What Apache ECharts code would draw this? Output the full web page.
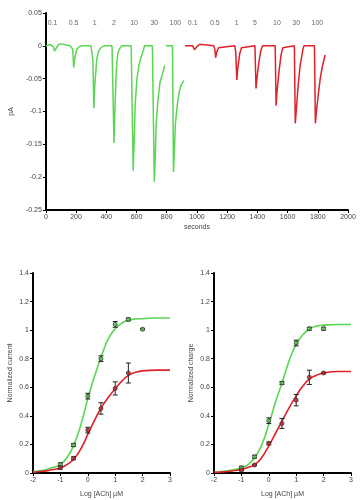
<!DOCTYPE html>
<html><head><meta charset="utf-8">
<script src="https://cdn.jsdelivr.net/npm/echarts@6/dist/echarts.min.js"></script>
<style>html,body{margin:0;padding:0;background:#fff}#c{width:362px;height:500px}</style>
</head><body><div id="c"></div>
<script>
// ---- top trace data (seconds, pA) ----
const greenT = [0,32,44,51,57,70,83,102,108,159,171,178,184,191,203,222,241,298,305,311,318,324,337,349,368,387,438,445,451,457,464,470,476,489,502,565,572,578,584,591,603,616,629,641,654,705,711,718,724,730,743,756,775,787,790,794,838,845,851,857,870,883,895,914];
const greenV = [0,0.002,0,-0.002,-0.008,-0.003,0.002,0.003,0.001,0,0,-0.005,-0.033,-0.02,-0.006,-0.001,0,0,0,-0.02,-0.095,-0.06,-0.02,-0.008,-0.002,0,0,0,-0.148,-0.10,-0.05,-0.025,-0.012,-0.004,0,0,0,-0.19,-0.15,-0.09,-0.05,-0.03,-0.018,-0.01,0,0,0,-0.207,-0.17,-0.12,-0.08,-0.055,-0.04,-0.03,'-',0,0,-0.192,-0.16,-0.12,-0.09,-0.07,-0.06,-0.053];
const redT = [921,972,978,984,997,1016,1029,1035,1048,1111,1118,1124,1130,1143,1156,1251,1257,1264,1270,1283,1295,1308,1384,1391,1397,1410,1422,1435,1518,1524,1530,1543,1556,1568,1645,1651,1657,1670,1683,1702,1708,1778,1784,1791,1803,1816,1829,1848];
const redV = [0,0,-0.003,-0.006,-0.002,0.002,0.004,0.002,0,0,-0.005,-0.018,-0.01,-0.003,0,0,-0.01,-0.052,-0.035,-0.012,-0.003,0,0,-0.065,-0.05,-0.025,-0.008,0,0,-0.091,-0.07,-0.04,-0.015,-0.003,0,-0.118,-0.10,-0.06,-0.03,-0.005,0,0,-0.118,-0.10,-0.075,-0.05,-0.033,-0.014];
const concLabels = ['0.1','0.5','1','2','10','30','100','0.1','0.5','1','5','10','30','100'];
const concLabelT = [44,184,324,451,584,718,857,972,1118,1264,1384,1530,1657,1797];
const concLabelY = 0.034;

// ---- dose-response data ----
const curveX = [-2,-1.75,-1.5,-1.25,-1,-0.75,-0.5,-0.25,0,0.25,0.5,0.75,1,1.25,1.5,1.75,2,2.5,3];
const greenCurFit = [0.01,0.015,0.025,0.04,0.06,0.11,0.2,0.34,0.52,0.68,0.82,0.94,1.01,1.05,1.07,1.078,1.08,1.085,1.085];
const redCurFit = [0.005,0.01,0.015,0.025,0.035,0.06,0.1,0.17,0.27,0.37,0.46,0.53,0.59,0.645,0.685,0.705,0.715,0.72,0.72];
const greenChgFit = [0.005,0.01,0.015,0.025,0.035,0.06,0.11,0.2,0.34,0.5,0.64,0.79,0.9,0.97,1.01,1.028,1.035,1.04,1.04];
const redChgFit = [0.005,0.007,0.01,0.017,0.025,0.04,0.06,0.11,0.19,0.28,0.37,0.46,0.54,0.61,0.66,0.685,0.7,0.71,0.71];

const doseX = [-1,-0.52,0,0.48,1,1.48,2];
const greenCurPts = [0.06,0.196,0.538,0.80,1.04,1.075,1.007];
const greenCurErr = [0.01,0.01,0.02,0.02,0.02,0.01,0.005];
const redCurPts = [0.037,0.103,0.30,0.452,0.592,0.70];
const redCurErr = [0.01,0.01,0.02,0.04,0.046,0.07];
const greenChgPts = [0.037,0.114,0.366,0.63,0.91,1.01,1.01];
const greenChgErr = [0.01,0.01,0.02,0.01,0.02,0.01,0.01];
const redChgPts = [0.02,0.056,0.207,0.347,0.51,0.67,0.70];
const redChgErr = [0.005,0.005,0.01,0.035,0.04,0.05,0.005];

const GREEN = '#5cd454', RED = '#e0202a';
const FONT = 'Liberation Sans';
const zip = (a, b) => a.map((v, i) => [v, b[i]]);

function axis(extra) {
  return Object.assign({
    type: 'value',
    axisLine: {show: true, onZero: false, lineStyle: {color: '#000', width: 2}},
    axisTick: {show: true, length: 3, lineStyle: {color: '#000', width: 1}},
    axisLabel: {fontSize: 7, color: '#444', fontFamily: FONT, margin: 4, formatter: v => String(+v.toFixed(3))},
    splitLine: {show: false},
    nameLocation: 'middle',
    nameTextStyle: {fontSize: 7, color: '#444', fontFamily: FONT}
  }, extra);
}

function errSeries(xi, yi, x, y, e) {
  return {
    type: 'custom', xAxisIndex: xi, yAxisIndex: yi, z: 5,
    data: x.slice(0, y.length).map((v, i) => [v, y[i] - e[i], y[i] + e[i]]),
    renderItem: function (params, api) {
      const lo = api.coord([api.value(0), api.value(1)]);
      const hi = api.coord([api.value(0), api.value(2)]);
      const w = 2.5;
      return {type: 'group', children: [
        {type: 'line', shape: {x1: lo[0], y1: lo[1], x2: hi[0], y2: hi[1]}, style: {stroke: '#222', lineWidth: 1}},
        {type: 'line', shape: {x1: hi[0]-w, y1: hi[1], x2: hi[0]+w, y2: hi[1]}, style: {stroke: '#222', lineWidth: 1}},
        {type: 'line', shape: {x1: lo[0]-w, y1: lo[1], x2: lo[0]+w, y2: lo[1]}, style: {stroke: '#222', lineWidth: 1}}
      ]};
    }
  };
}
function pts(xi, yi, x, y, color) {
  return {type: 'scatter', xAxisIndex: xi, yAxisIndex: yi, z: 6, symbol: 'circle', symbolSize: 4,
    itemStyle: {color: color, borderColor: '#333', borderWidth: 1},
    data: x.slice(0, y.length).map((v, i) => [v, y[i]])};
}
function fit(xi, yi, y, color) {
  return {type: 'line', xAxisIndex: xi, yAxisIndex: yi, smooth: true, showSymbol: false, z: 4,
    lineStyle: {color: color, width: 1.6}, data: zip(curveX, y)};
}

const chart = echarts.init(document.getElementById('c'), null, {renderer: 'canvas'});
chart.setOption({
  animation: false,
  backgroundColor: '#fff',
  grid: [
    {left: 33, top: 13, width: 315, height: 197},
    {left: 33, top: 273, width: 137, height: 200},
    {left: 214, top: 273, width: 137, height: 200}
  ],
  xAxis: [
    axis({gridIndex: 0, min: 0, max: 2000, interval: 200, name: 'seconds', nameGap: 14}),
    axis({gridIndex: 1, min: -2, max: 3, interval: 1, name: 'Log [ACh] µM', nameGap: 18}),
    axis({gridIndex: 2, min: -2, max: 3, interval: 1, name: 'Log [ACh] µM', nameGap: 18})
  ],
  yAxis: [
    axis({gridIndex: 0, min: -0.25, max: 0.05, interval: 0.05, name: 'pA', nameGap: 22}),
    axis({gridIndex: 1, min: 0, max: 1.4, interval: 0.2, name: 'Normalized current', nameGap: 19}),
    axis({gridIndex: 2, min: 0, max: 1.4, interval: 0.2, name: 'Normalized charge', nameGap: 19})
  ],
  series: [
    {type: 'line', xAxisIndex: 0, yAxisIndex: 0, showSymbol: false, connectNulls: false,
      lineStyle: {color: GREEN, width: 1.5}, data: zip(greenT, greenV)},
    {type: 'line', xAxisIndex: 0, yAxisIndex: 0, showSymbol: false,
      lineStyle: {color: RED, width: 1.5}, data: zip(redT, redV)},
    {type: 'scatter', xAxisIndex: 0, yAxisIndex: 0, symbolSize: 0, silent: true,
      label: {show: true, position: 'inside', fontSize: 7, color: '#444', fontFamily: FONT,
        formatter: p => p.data.name},
      data: concLabelT.map((t, i) => ({name: concLabels[i], value: [t, concLabelY]}))},
    fit(1, 1, greenCurFit, GREEN),
    fit(1, 1, redCurFit, RED),
    errSeries(1, 1, doseX, greenCurPts, greenCurErr),
    errSeries(1, 1, doseX, redCurPts, redCurErr),
    pts(1, 1, doseX, greenCurPts, GREEN),
    pts(1, 1, doseX, redCurPts, RED),
    fit(2, 2, greenChgFit, GREEN),
    fit(2, 2, redChgFit, RED),
    errSeries(2, 2, doseX, greenChgPts, greenChgErr),
    errSeries(2, 2, doseX, redChgPts, redChgErr),
    pts(2, 2, doseX, greenChgPts, GREEN),
    pts(2, 2, doseX, redChgPts, RED)
  ]
});
</script></body></html>
